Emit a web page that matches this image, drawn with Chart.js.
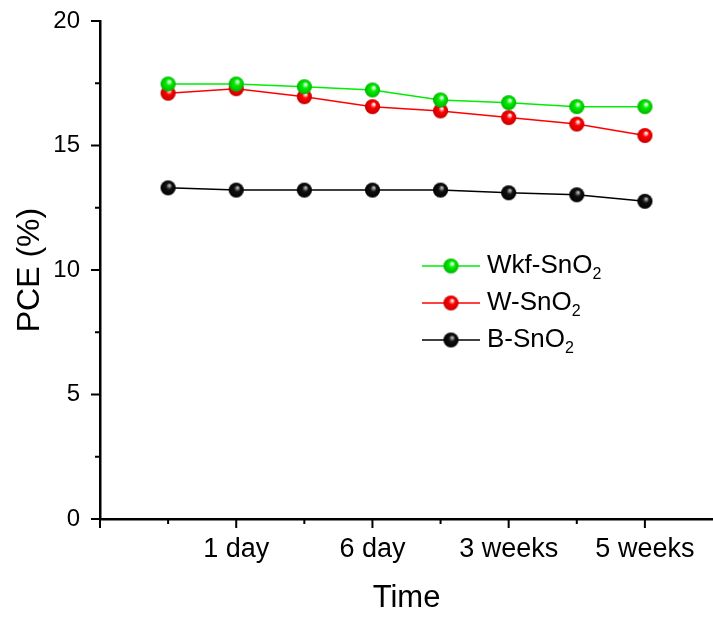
<!DOCTYPE html>
<html>
<head>
<meta charset="utf-8">
<script src="https://cdn.jsdelivr.net/npm/chart.js@4"></script>
<style>
  html, body { margin: 0; padding: 0; background: #fff; }
  #wrap { width: 713px; height: 619px; }
</style>
</head>
<body>
<div id="wrap"><canvas id="pceChart"></canvas></div>
<script>
// Data
const positions = [1, 2, 3, 4, 5, 6, 7, 8];
const xTickValues = [2, 4, 6, 8];
const xTickLabels = ['1 day', '6 day', '3 weeks', '5 weeks'];
const wkfSnO2 = [17.47, 17.47, 17.36, 17.23, 16.83, 16.72, 16.56, 16.56];
const wSnO2 = [17.10, 17.28, 16.96, 16.56, 16.39, 16.12, 15.86, 15.40];
const bSnO2 = [13.30, 13.21, 13.21, 13.21, 13.21, 13.10, 13.02, 12.76];

const FONT = '"Liberation Sans", Arial, sans-serif';

// shaded ball marker
function sphere(body, edge, hi) {
  const s = 17, c = document.createElement('canvas');
  c.width = s; c.height = s;
  const g = c.getContext('2d');
  const grad = g.createRadialGradient(s / 2 + 1.5, s / 2 - 2.5, 0.5, s / 2, s / 2, 8);
  grad.addColorStop(0, hi);
  grad.addColorStop(0.35, body);
  grad.addColorStop(1, edge);
  g.fillStyle = grad;
  g.beginPath();
  g.arc(s / 2, s / 2, 7.6, 0, Math.PI * 2);
  g.fill();
  return c;
}

const greenBall = sphere('#00ee00', '#00b000', '#ffffff');
const redBall = sphere('#ff0000', '#c00000', '#ffffff');
const blackBall = sphere('#111111', '#000000', '#bbbbbb');

function pts(values) {
  return values.map((v, i) => ({ x: positions[i], y: v }));
}

// outward major/minor tick marks
const axisTicks = {
  id: 'axisTicks',
  afterDraw(chart) {
    const { ctx, scales: { x, y }, chartArea: a } = chart;
    ctx.save();
    ctx.strokeStyle = '#000';
    ctx.lineWidth = 2;
    ctx.beginPath();
    for (let v = 0; v <= 20; v += 2.5) {
      const py = y.getPixelForValue(v);
      const len = v % 5 === 0 ? 9 : 5;
      ctx.moveTo(a.left - len, py);
      ctx.lineTo(a.left, py);
    }
    for (let v = 0; v <= 8; v++) {
      const px = x.getPixelForValue(v);
      const len = v % 2 === 0 ? 9 : 5;
      ctx.moveTo(px, a.bottom);
      ctx.lineTo(px, a.bottom + len);
    }
    ctx.stroke();
    ctx.restore();
  }
};

// legend with subscripted "2"
const subLegend = {
  id: 'subLegend',
  afterDraw(chart) {
    const ctx = chart.ctx;
    const rows = [266, 303, 340];
    ctx.save();
    chart.data.datasets.forEach((ds, i) => {
      const cy = rows[i];
      ctx.strokeStyle = ds.borderColor;
      ctx.lineWidth = 1.5;
      ctx.beginPath();
      ctx.moveTo(422, cy);
      ctx.lineTo(480, cy);
      ctx.stroke();
      const img = ds.pointStyle;
      ctx.drawImage(img, 451 - img.width / 2, cy - img.height / 2);
      const base = ds.label.slice(0, -1);
      ctx.fillStyle = '#000';
      ctx.textBaseline = 'middle';
      ctx.font = '26px ' + FONT;
      ctx.fillText(base, 487, cy);
      const w = ctx.measureText(base).width;
      ctx.font = '16px ' + FONT;
      ctx.fillText('2', 487 + w, cy + 9);
    });
    ctx.restore();
  }
};

const ctx = document.getElementById('pceChart').getContext('2d');
new Chart(ctx, {
  type: 'line',
  data: {
    datasets: [
      { label: 'Wkf-SnO2', data: pts(wkfSnO2), borderColor: '#00ee00', pointStyle: greenBall, order: 0 },
      { label: 'W-SnO2', data: pts(wSnO2), borderColor: '#ff0000', pointStyle: redBall, order: 1 },
      { label: 'B-SnO2', data: pts(bSnO2), borderColor: '#000000', pointStyle: blackBall, order: 2 }
    ].map(d => Object.assign(d, { borderWidth: 1.5, pointRadius: 8, pointHoverRadius: 8, clip: false, tension: 0 }))
  },
  options: {
    responsive: true,
    maintainAspectRatio: false,
    animation: false,
    layout: { autoPadding: false, padding: { top: 21, left: 0, right: 0, bottom: 0 } },
    plugins: { legend: { display: false }, tooltip: { enabled: false } },
    scales: {
      x: {
        type: 'linear',
        min: 0,
        max: 9,
        afterFit(s) { s.height = 100; s.paddingLeft = 0; s.paddingRight = 0; },
        afterBuildTicks(s) { s.ticks = [0].concat(positions).map(v => ({ value: v })); },
        grid: { display: false, drawTicks: false },
        border: { display: true, color: '#000', width: 2.5 },
        ticks: {
          autoSkip: false,
          maxRotation: 0,
          padding: 14,
          color: '#000',
          font: { family: FONT, size: 27 },
          callback: v => {
            const k = xTickValues.indexOf(v);
            return k >= 0 ? xTickLabels[k] : '';
          }
        },
        title: { display: true, text: 'Time', color: '#000', font: { family: FONT, size: 31 }, padding: { top: 0, bottom: 2 } }
      },
      y: {
        min: 0,
        max: 20,
        afterFit(s) { s.width = 100; s.paddingTop = 0; s.paddingBottom = 0; },
        grid: { display: false, drawTicks: false },
        border: { display: true, color: '#000', width: 2.5 },
        ticks: { stepSize: 5, padding: 20, color: '#000', font: { family: FONT, size: 24 } },
        title: { display: true, text: 'PCE (%)', color: '#000', font: { family: FONT, size: 32 }, padding: { top: 11, bottom: 0 } }
      }
    }
  },
  plugins: [axisTicks, subLegend]
});
</script>
</body>
</html>
